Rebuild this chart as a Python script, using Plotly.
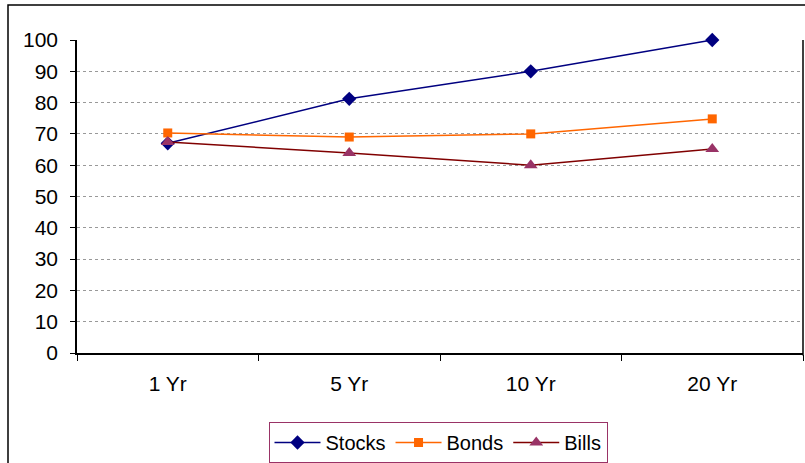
import plotly.graph_objects as go

categories = ["1 Yr", "5 Yr", "10 Yr", "20 Yr"]
stocks = [67, 81.2, 90, 100]
bonds = [70.3, 69, 70, 74.8]
bills = [67.4, 63.9, 60, 65.2]

FONT = "Liberation Sans, Arial, sans-serif"

fig = go.Figure()
fig.add_trace(go.Scatter(x=categories, y=stocks, name="Stocks", mode="lines+markers",
                         line=dict(color="#000080", width=1.5), cliponaxis=False,
                         marker=dict(symbol="diamond", size=11, color="#000080")))
fig.add_trace(go.Scatter(x=categories, y=bonds, name="Bonds", mode="lines+markers",
                         line=dict(color="#FF6600", width=1.5), cliponaxis=False,
                         marker=dict(symbol="square", size=9, color="#FF6600")))
fig.add_trace(go.Scatter(x=categories, y=bills, name="Bills", mode="lines+markers",
                         line=dict(color="#800000", width=1.5), cliponaxis=False,
                         marker=dict(symbol="triangle-up", size=12, color="#993366")))

fig.update_layout(
    width=805, height=463,
    margin=dict(l=77, r=2, t=40, b=110, autoexpand=False),
    paper_bgcolor="white", plot_bgcolor="white",
    font=dict(family=FONT, size=21, color="black"),
    showlegend=True,
    legend=dict(orientation="h", x=438 / 805, xref="container", xanchor="center",
                y=(463 - 422) / 463, yref="container", yanchor="top",
                bordercolor="#993366", borderwidth=1, font=dict(size=20),
                itemwidth=46, tracegroupgap=0),
    xaxis=dict(type="category", range=[-0.5, 3.5], showgrid=False,
               showline=True, linecolor="black", linewidth=1.5,
               ticks="outside", tickson="boundaries", ticklen=6, tickcolor="black",
               ticklabelstandoff=11, fixedrange=True, automargin=False),
    yaxis=dict(range=[0, 100], dtick=10, showgrid=True, gridcolor="#999999",
               griddash="dot", gridwidth=1, zeroline=False,
               showline=True, linecolor="black", linewidth=1.5,
               ticks="outside", ticklen=5, tickcolor="black",
               ticklabelstandoff=8, fixedrange=True, automargin=False),
)

# right border of plot area
fig.add_shape(type="line", xref="paper", yref="paper", x0=1, x1=1, y0=-0.008, y1=1,
              line=dict(color="black", width=1.5))
# outer chart border
fig.add_shape(type="rect", xref="paper", yref="paper",
              x0=(8 - 77) / 726, x1=1.05, y0=-0.5, y1=1 + 35 / 313,
              line=dict(color="black", width=1.5), layer="below")

fig.write_html("out.html")
